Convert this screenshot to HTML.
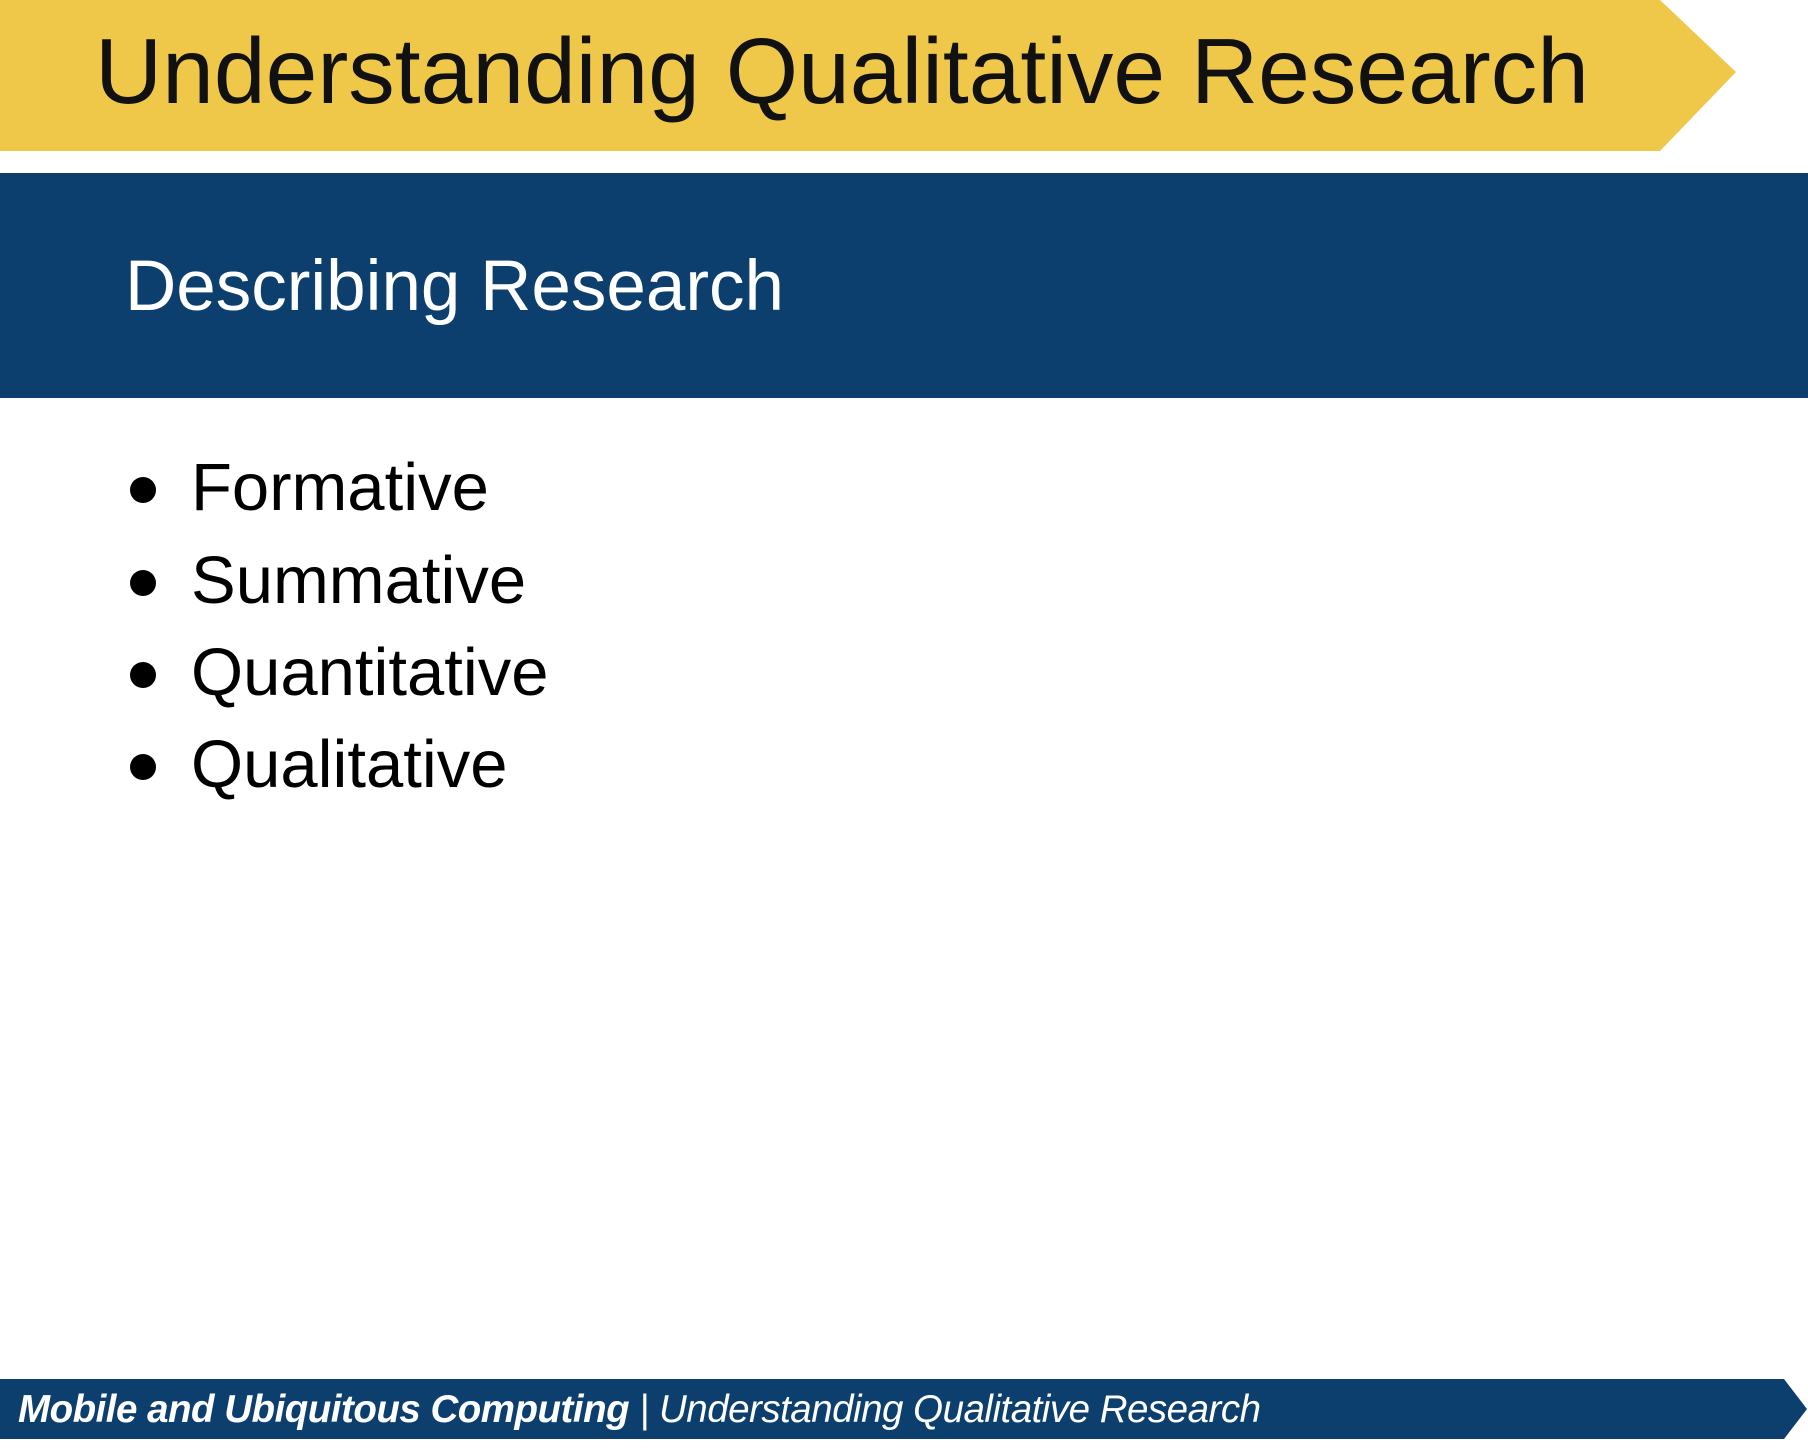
<!DOCTYPE html>
<html><head><meta charset="utf-8"><style>
html,body{margin:0;padding:0;width:1808px;height:1448px;background:#fff;overflow:hidden;font-family:"Liberation Sans",sans-serif;}
.abs{position:absolute;white-space:nowrap;}
</style></head><body>
<svg class="abs" style="left:0;top:0" width="1808" height="1448">
<polygon points="0,0 1660,0 1736,72 1660,151 0,151" fill="#efc84a"/>
<rect x="0" y="173" width="1808" height="225" fill="#0d3f6e"/>
<polygon points="0,1379 1784,1379 1807,1409 1784,1439 0,1439" fill="#0d3f6e"/>
<circle cx="143" cy="490" r="13" fill="#000"/>
<circle cx="143" cy="583" r="13" fill="#000"/>
<circle cx="143" cy="675" r="13" fill="#000"/>
<circle cx="143" cy="767" r="13" fill="#000"/>
</svg>
<div class="abs" style="left:95px;top:21px;font-size:93px;line-height:100px;color:#111;">Understanding Qualitative Research</div>
<div class="abs" style="left:125px;top:247px;font-size:71px;line-height:80px;color:#fff;">Describing Research</div>
<div>
<div class="abs" style="left:191px;top:452px;font-size:67px;line-height:72px;color:#000;">Formative</div>
<div class="abs" style="left:191px;top:545px;font-size:67px;line-height:72px;color:#000;">Summative</div>
<div class="abs" style="left:191px;top:637px;font-size:67px;line-height:72px;color:#000;">Quantitative</div>
<div class="abs" style="left:191px;top:729px;font-size:67px;line-height:72px;color:#000;">Qualitative</div>
</div>
<div class="abs" style="left:18px;top:1388px;font-size:38.5px;line-height:44px;color:#fff;font-style:italic;letter-spacing:-0.5px;"><b>Mobile and Ubiquitous Computing</b> | Understanding Qualitative Research</div>
</body></html>
